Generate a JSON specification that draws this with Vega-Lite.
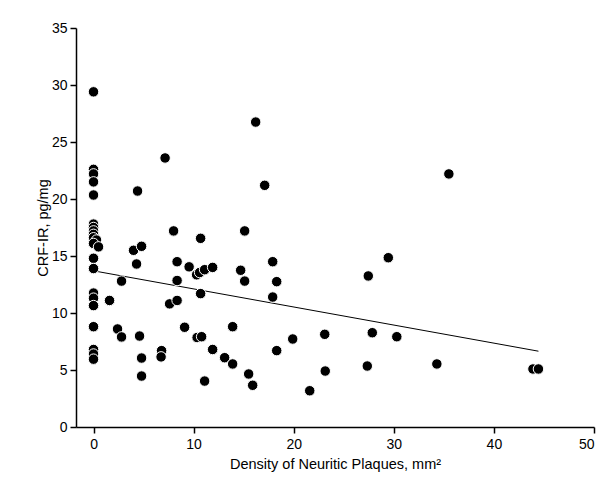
{
  "$schema": "https://vega.github.io/schema/vega-lite/v6.json",
  "width": 518,
  "height": 399,
  "autosize": "none",
  "padding": {"left": 76, "top": 28, "right": 16, "bottom": 56},
  "background": "white",
  "config": {
    "view": {"stroke": null},
    "font": "Liberation Sans",
    "axis": {
      "grid": false,
      "domainColor": "#000000",
      "domainWidth": 1.5,
      "tickColor": "#000000",
      "tickWidth": 1.5,
      "tickSize": 6,
      "labelFont": "Liberation Sans",
      "labelFontSize": 14,
      "labelColor": "#000000",
      "titleFont": "Liberation Sans",
      "titleFontSize": 14.5,
      "titleFontWeight": "normal",
      "titleColor": "#000000"
    }
  },
  "datasets": {
    "points": [
      {"x": 0, "y": 29.4}, {"x": 0, "y": 22.6}, {"x": 0, "y": 22.2}, {"x": 0, "y": 21.5}, {"x": 0, "y": 20.35},
      {"x": 0, "y": 17.8}, {"x": 0, "y": 17.5}, {"x": 0, "y": 17.2}, {"x": 0, "y": 16.9}, {"x": 0, "y": 16.6},
      {"x": 0.3, "y": 16.4}, {"x": 0, "y": 16.1}, {"x": 0.5, "y": 15.8}, {"x": 0, "y": 14.8}, {"x": 0, "y": 13.9},
      {"x": 0, "y": 11.75}, {"x": 0, "y": 11.3}, {"x": 0, "y": 10.65}, {"x": 0, "y": 8.8}, {"x": 0, "y": 6.8},
      {"x": 0, "y": 6.4}, {"x": 0, "y": 5.95},
      {"x": 1.6, "y": 11.1}, {"x": 2.8, "y": 12.8}, {"x": 2.4, "y": 8.6}, {"x": 2.8, "y": 7.9},
      {"x": 4.0, "y": 15.5}, {"x": 4.3, "y": 14.3}, {"x": 4.4, "y": 20.7}, {"x": 4.8, "y": 15.85},
      {"x": 4.6, "y": 7.98}, {"x": 4.8, "y": 6.05}, {"x": 4.8, "y": 4.47}, {"x": 6.8, "y": 6.7},
      {"x": 6.75, "y": 6.15}, {"x": 7.15, "y": 23.6}, {"x": 7.6, "y": 10.8}, {"x": 8.0, "y": 17.2},
      {"x": 8.35, "y": 14.5}, {"x": 8.35, "y": 12.85}, {"x": 8.35, "y": 11.1}, {"x": 9.1, "y": 8.75},
      {"x": 9.55, "y": 14.05}, {"x": 10.3, "y": 13.35}, {"x": 10.6, "y": 13.55}, {"x": 11.1, "y": 13.8},
      {"x": 11.9, "y": 14.0}, {"x": 10.7, "y": 16.55}, {"x": 10.7, "y": 11.7}, {"x": 10.35, "y": 7.85},
      {"x": 10.8, "y": 7.92}, {"x": 11.1, "y": 4.03}, {"x": 11.9, "y": 6.8}, {"x": 13.1, "y": 6.08},
      {"x": 13.9, "y": 8.8}, {"x": 13.9, "y": 5.53}, {"x": 14.7, "y": 13.75}, {"x": 15.1, "y": 17.2},
      {"x": 15.1, "y": 12.8}, {"x": 15.5, "y": 4.65}, {"x": 15.9, "y": 3.66}, {"x": 16.2, "y": 26.75},
      {"x": 17.1, "y": 21.2}, {"x": 17.9, "y": 14.5}, {"x": 17.9, "y": 11.4}, {"x": 18.3, "y": 12.75},
      {"x": 18.3, "y": 6.7}, {"x": 19.9, "y": 7.72}, {"x": 21.6, "y": 3.18}, {"x": 23.1, "y": 8.13},
      {"x": 23.15, "y": 4.91}, {"x": 27.35, "y": 5.35}, {"x": 27.45, "y": 13.25}, {"x": 27.85, "y": 8.27},
      {"x": 29.45, "y": 14.85}, {"x": 30.3, "y": 7.92}, {"x": 34.3, "y": 5.53}, {"x": 35.5, "y": 22.2},
      {"x": 43.9, "y": 5.09}, {"x": 44.45, "y": 5.09}
    ],
    "fit": [
      {"x": 0, "y": 13.7},
      {"x": 44.45, "y": 6.65}
    ]
  },
  "layer": [
    {
      "data": {"name": "fit"},
      "mark": {"type": "line", "color": "#000000", "strokeWidth": 1},
      "encoding": {
        "x": {"field": "x", "type": "quantitative"},
        "y": {"field": "y", "type": "quantitative"}
      }
    },
    {
      "data": {"name": "points"},
      "mark": {"type": "point", "shape": "circle", "filled": true, "fill": "#000000", "stroke": "#ffffff", "strokeWidth": 1, "size": 110, "opacity": 1},
      "encoding": {
        "x": {
          "field": "x", "type": "quantitative",
          "scale": {"domain": [-1.75, 50], "nice": false, "zero": false},
          "axis": {"values": [0, 10, 20, 30, 40, 50], "title": "Density of Neuritic Plaques, mm²", "labelPadding": 4, "titlePadding": 6}
        },
        "y": {
          "field": "y", "type": "quantitative",
          "scale": {"domain": [0, 35], "nice": false},
          "axis": {"values": [0, 5, 10, 15, 20, 25, 30, 35], "title": "CRF-IR, pg/mg", "labelPadding": 3, "titlePadding": 1}
        }
      }
    }
  ]
}
